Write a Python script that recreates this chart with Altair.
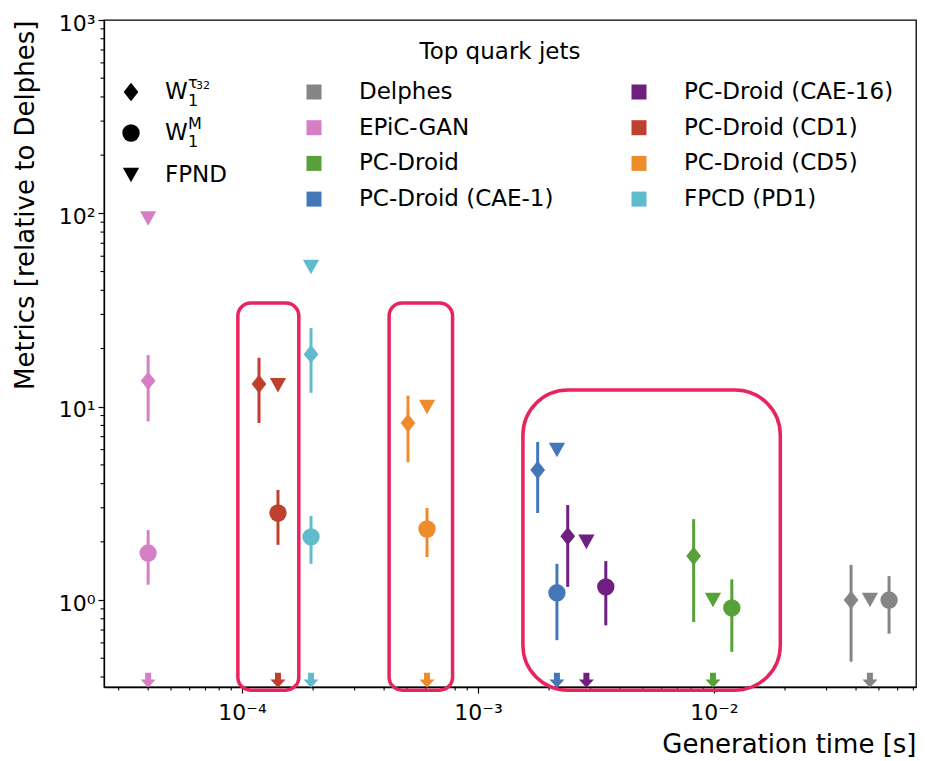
import math
import altair as alt
import pandas as pd

# ---------------- data ----------------
models = ["Delphes", "EPiC-GAN", "PC-Droid", "PC-Droid (CAE-1)",
          "PC-Droid (CAE-16)", "PC-Droid (CD1)", "PC-Droid (CD5)", "FPCD (PD1)"]
colors = ["#858585", "#d67fc6", "#57a03a", "#4377b8",
          "#6f1f7f", "#c0402f", "#ee8b2d", "#60bccd"]

# generation time [s] at which each marker is drawn
x_w1tau = [0.0381, 4.0e-5, 8.2e-3, 1.79e-3, 2.40e-3, 1.18e-4, 5.05e-4, 1.96e-4]
x_w1m = [0.0552, 4.0e-5, 1.19e-2, 2.16e-3, 3.48e-3, 1.42e-4, 6.08e-4, 1.96e-4]
x_fpnd = [0.0458, 4.0e-5, 9.9e-3, 2.16e-3, 2.88e-3, 1.42e-4, 6.08e-4, 1.96e-4]
x_limit = [0.0458, 4.0e-5, 9.9e-3, 2.16e-3, 2.88e-3, 1.42e-4, 6.08e-4, 1.96e-4]

# metrics relative to Delphes
w1tau = [1.0, 13.6, 1.69, 4.71, 2.14, 13.1, 8.24, 18.7]
w1tau_lo = [0.48, 8.4, 0.77, 2.82, 1.17, 8.24, 5.17, 11.8]
w1tau_hi = [1.52, 18.5, 2.62, 6.57, 3.10, 17.9, 11.4, 25.5]
w1m = [1.0, 1.75, 0.91, 1.09, 1.17, 2.82, 2.33, 2.12]
w1m_lo = [0.67, 1.20, 0.54, 0.62, 0.74, 1.93, 1.67, 1.54]
w1m_hi = [1.33, 2.30, 1.28, 1.54, 1.59, 3.71, 2.99, 2.72]
fpnd = [1.0, 94.0, 1.0, 5.97, 2.0, 12.9, 9.96, 52.8]
limit = [0.385, 0.385, 0.385, 0.385, 0.385, 0.385, 0.385, 0.385]  # below-range arrows

# highlight boxes (data coordinates)
box_x_lo = [9.6e-5, 4.2e-4, 1.55e-3]
box_x_hi = [1.74e-4, 7.8e-4, 1.91e-2]
box_y_lo = [0.342, 0.342, 0.342]
box_y_hi = [34.4, 34.4, 12.2]

# axis ticks
x_major = [1e-4, 1e-3, 1e-2]
x_minor = [3e-5, 4e-5, 5e-5, 6e-5, 7e-5, 8e-5, 9e-5,
           2e-4, 3e-4, 4e-4, 5e-4, 6e-4, 7e-4, 8e-4, 9e-4,
           2e-3, 3e-3, 4e-3, 5e-3, 6e-3, 7e-3, 8e-3, 9e-3,
           2e-2, 3e-2, 4e-2, 5e-2, 6e-2, 7e-2]
y_major = [1, 10, 100, 1000]
y_minor = [0.4, 0.5, 0.6, 0.7, 0.8, 0.9,
           2, 3, 4, 5, 6, 7, 8, 9,
           20, 30, 40, 50, 60, 70, 80, 90,
           200, 300, 400, 500, 600, 700, 800, 900]

# ---------------- layout constants ----------------
W, H = 812, 667
XMIN, XMAX = 2.6e-5, 0.0718
YMIN, YMAX = 0.355, 1000.0
FONT = "DejaVu Sans"
DIAMOND = "M0,-1L0.8,0L0,1L-0.8,0Z"
TRI_DOWN = "M-1,-0.9L1,-0.9L0,0.9Z"
ARROW = "M-0.4,-1L0.4,-1L0.4,-0.1L1,-0.1L0,1L-1,-0.1L-0.4,-0.1Z"
SHAPES = [DIAMOND, "circle", TRI_DOWN, ARROW]
SIZES = [340, 225, 300, 250]
METRICS = ["W1tau", "W1M", "FPND", "limit"]


def px_to_x(px):
    lo, hi = math.log10(XMIN), math.log10(XMAX)
    return 10 ** (lo + px / W * (hi - lo))


def py_to_y(py):
    lo, hi = math.log10(YMIN), math.log10(YMAX)
    return 10 ** (hi - py / H * (hi - lo))


# ---------------- tables ----------------
rows = []
for i, m in enumerate(models):
    rows.append(dict(model=m, metric="W1tau", x=x_w1tau[i], y=w1tau[i]))
    rows.append(dict(model=m, metric="W1M", x=x_w1m[i], y=w1m[i]))
    rows.append(dict(model=m, metric="FPND", x=x_fpnd[i], y=fpnd[i]))
    rows.append(dict(model=m, metric="limit", x=x_limit[i], y=limit[i]))
pts = pd.DataFrame(rows)

err_rows = []
for i, m in enumerate(models):
    err_rows.append(dict(model=m, x=x_w1tau[i], lo=w1tau_lo[i], hi=w1tau_hi[i]))
    err_rows.append(dict(model=m, x=x_w1m[i], lo=w1m_lo[i], hi=w1m_hi[i]))
errs = pd.DataFrame(err_rows)

boxes = pd.DataFrame(dict(x0=box_x_lo, x1=box_x_hi, y0=box_y_lo, y1=box_y_hi))

x_scale = alt.Scale(type="log", domain=[XMIN, XMAX], nice=False)
y_scale = alt.Scale(type="log", domain=[YMIN, YMAX], nice=False)
color_scale = alt.Scale(domain=models, range=colors)
shape_scale = alt.Scale(domain=METRICS, range=SHAPES)
size_scale = alt.Scale(domain=METRICS, range=SIZES)

x_axis = alt.Axis(
    values=x_major,
    labelExpr="datum.value == 0.0001 ? '10⁻⁴' : datum.value == 0.001 ? '10⁻³' : datum.value == 0.01 ? '10⁻²' : ''",
    tickSize=6, labelFontSize=22, labelFont=FONT, labelColor="black", labelPadding=9,
    labelFlush=False, labelOverlap=False,
    tickColor="black", tickWidth=1.2, domainColor="black", domainWidth=1.3,
    grid=False,
    title="Generation time [s]", titleFont=FONT, titleFontSize=26,
    titleFontWeight="normal", titleColor="black",
    titleX=812, titleY=65, titleAlign="right", titleBaseline="alphabetic",
)
y_axis = alt.Axis(
    values=y_major,
    labelExpr="datum.value == 1 ? '10⁰' : datum.value == 10 ? '10¹' : datum.value == 100 ? '10²' : datum.value == 1000 ? '10³' : ''",
    tickSize=6, labelFontSize=22, labelFont=FONT, labelColor="black", labelPadding=3,
    labelOffset=3, labelFlush=False, labelOverlap=False,
    tickColor="black", tickWidth=1.2, domainColor="black", domainWidth=1.3,
    grid=False,
    title="Metrics [relative to Delphes]", titleFont=FONT, titleFontSize=26,
    titleFontWeight="normal", titleColor="black", titleAngle=270,
    titleX=-79, titleY=0, titleAlign="right", titleBaseline="middle",
)


def X(field):
    return alt.X(field, type="quantitative", scale=x_scale, axis=x_axis)


def Y(field):
    return alt.Y(field, type="quantitative", scale=y_scale, axis=y_axis)


errbars = alt.Chart(errs).mark_rule(strokeWidth=3).encode(
    x=X("x"), y=Y("lo"), y2="hi:Q",
    color=alt.Color("model:N", scale=color_scale, legend=None),
)

points = alt.Chart(pts).mark_point(filled=True, opacity=1, strokeWidth=0).encode(
    x=X("x"), y=Y("y"),
    color=alt.Color("model:N", scale=color_scale, legend=None),
    shape=alt.Shape("metric:N", scale=shape_scale, legend=None),
    size=alt.Size("metric:N", scale=size_scale, legend=None),
)

# minor ticks (outside the plot area, drawn through the scales)
xminor_ticks = alt.Chart(pd.DataFrame(dict(v=x_minor))).mark_rule(color="black", strokeWidth=1.1).encode(
    x=X("v"), y=alt.value(H), y2=alt.value(H + 3.5),
)
yminor_ticks = alt.Chart(pd.DataFrame(dict(v=y_minor))).mark_rule(color="black", strokeWidth=1.1).encode(
    y=Y("v"), x=alt.value(0), x2=alt.value(-3.5),
)

box_small = alt.Chart(boxes.iloc[:2]).mark_rect(
    fillOpacity=0, stroke="#e8245e", strokeWidth=3.5, cornerRadius=13
).encode(x=X("x0"), x2="x1:Q", y=Y("y0"), y2="y1:Q")
box_big = alt.Chart(boxes.iloc[2:]).mark_rect(
    fillOpacity=0, stroke="#e8245e", strokeWidth=3.5, cornerRadius=45
).encode(x=X("x0"), x2="x1:Q", y=Y("y0"), y2="y1:Q")

# ---------------- manual legend (pixel offsets inside the plot -> data coords) ----------------
leg = pd.DataFrame(dict(model=models))
leg["col"] = [i // 4 for i in range(len(models))]
leg["row"] = [i % 4 for i in range(len(models))]
leg["lx"] = [px_to_x(210 + 325 * c) for c in leg["col"]]
leg["tx"] = [px_to_x(255 + 325 * c) for c in leg["col"]]
leg["ly"] = [py_to_y(72 + 35.7 * r) for r in leg["row"]]

leg_sq = alt.Chart(leg).mark_point(shape="square", filled=True, opacity=1, size=225, strokeWidth=0).encode(
    x=X("lx"), y=Y("ly"),
    color=alt.Color("model:N", scale=color_scale, legend=None),
)
leg_txt = alt.Chart(leg).mark_text(align="left", baseline="middle", font=FONT, fontSize=23, color="black").encode(
    x=X("tx"), y=Y("ly"), text="model:N",
)

shape_leg = pd.DataFrame(dict(metric=["W1tau", "W1M", "FPND"]))
shape_leg["px"] = [px_to_x(27)] * 3
shape_leg["py"] = [py_to_y(v) for v in (72, 113, 155)]
leg_shapes = alt.Chart(shape_leg).mark_point(filled=True, opacity=1, strokeWidth=0, color="black").encode(
    x=X("px"), y=Y("py"),
    shape=alt.Shape("metric:N", scale=shape_scale, legend=None),
    size=alt.Size("metric:N", scale=size_scale, legend=None),
)

lab_t = ["W", "1", "τ", "32", "W", "1", "M", "FPND"]
lab_px = [61, 84, 84, 92, 61, 84, 84, 61]
lab_py = [72, 81, 63, 66, 113, 122, 104, 155]
lab_fs = [23, 16, 16, 11, 23, 16, 16, 23]
labels = pd.DataFrame(dict(t=lab_t, fs=lab_fs))
labels["px"] = [px_to_x(v) for v in lab_px]
labels["py"] = [py_to_y(v) for v in lab_py]
leg_left = alt.Chart(labels).mark_text(align="left", baseline="middle", font=FONT, color="black").encode(
    x=X("px"), y=Y("py"),
    text="t:N", size=alt.Size("fs:Q", scale=None, legend=None),
)

title_df = pd.DataFrame(dict(t=["Top quark jets"], px=[px_to_x(396)], py=[py_to_y(32)]))
leg_title = alt.Chart(title_df).mark_text(align="center", baseline="middle", font=FONT, fontSize=23, color="black").encode(
    x=X("px"), y=Y("py"), text="t:N",
)

chart = alt.layer(
    errbars, points, xminor_ticks, yminor_ticks, box_small, box_big,
    leg_sq, leg_txt, leg_shapes, leg_left, leg_title,
).properties(
    width=W, height=H,
    autosize=alt.AutoSizeParams(type="none"),
    padding={"left": 96, "top": 12, "right": 1, "bottom": 74},
    background="white",
).configure_view(stroke="black", strokeWidth=1.3)

chart.save("out.html", embed_options={"renderer": "svg", "actions": False})
